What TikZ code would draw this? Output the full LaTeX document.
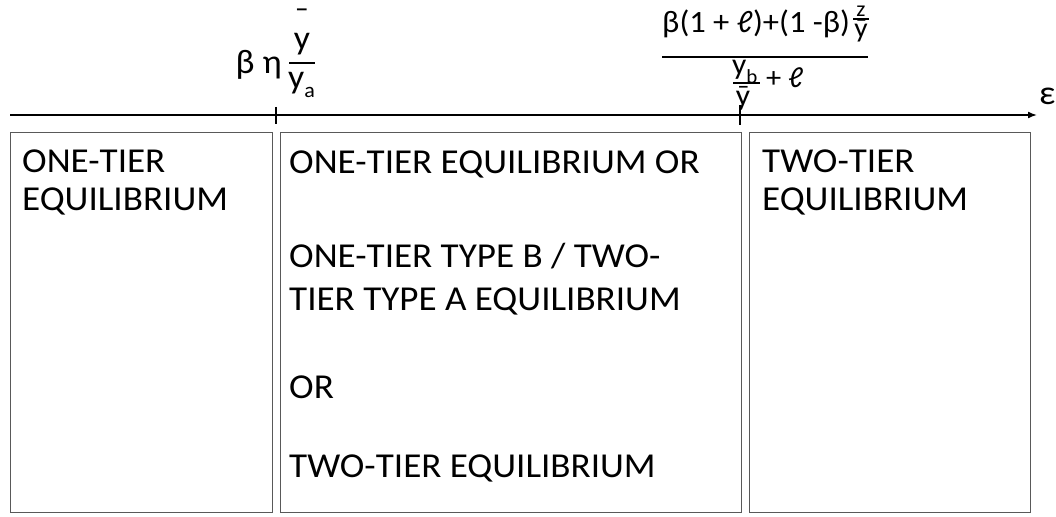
\documentclass[tikz,border=0pt]{standalone}
\usepackage{fontspec}
\setmainfont{Carlito}
\newfontfamily\dvfont{DejaVu Sans}
\usetikzlibrary{arrows.meta}
\newcommand{\scriptl}{\iffontchar\font"2113 ℓ\else{\dvfont ℓ}\fi}
\newcommand{\ybar}{\iffontchar\font"0233 ȳ\else\=y\fi}
\newcommand{\tallybar}{\ooalign{y\cr\hidewidth\raisebox{19pt}{¯}\hidewidth\cr}}
\begin{document}
\begin{tikzpicture}[x=1pt,y=-1pt,
 box/.style={draw=black!65, line width=1.3pt, anchor=north west, inner sep=0pt},
 body/.style={font=\fontsize{35}{40}\selectfont, xscale=1.06, anchor=base west, inner sep=0pt},
 lab/.style={font=\fontsize{34}{38}\selectfont, xscale=1.05, inner sep=0pt},
 small/.style={font=\fontsize{24}{28}\selectfont, xscale=1.05, inner sep=0pt},
 axis/.style={line width=1.6pt, -{Latex[length=9pt,width=7pt]}},
 tickln/.style={line width=1.6pt},
 barln/.style={line width=2pt},
 thinbar/.style={line width=1.3pt}]
\useasboundingbox (0,0) rectangle (1056,516);
% boxes
\node[box, minimum width=262pt, minimum height=380pt] (b1) at (10,132) {};
\node[box, minimum width=461pt, minimum height=380pt] (b2) at (280,132) {};
\node[box, minimum width=281pt, minimum height=380pt] (b3) at (749,132) {};
% texts in boxes
\node[body] (t11) at (22,172) {ONE-TIER};
\node[body] (t12) at (22,210) {EQUILIBRIUM};
\node[body] (t21) at (289,173) {ONE-TIER EQUILIBRIUM OR};
\node[body] (t22) at (289,267) {ONE-TIER TYPE B / TWO-};
\node[body] (t23) at (289,310) {TIER TYPE A EQUILIBRIUM};
\node[body] (t24) at (289,398) {OR};
\node[body] (t25) at (289,477) {TWO-TIER EQUILIBRIUM};
\node[body] (t31) at (762,172) {TWO-TIER};
\node[body] (t32) at (762,210) {EQUILIBRIUM};
% axis
\coordinate (a0) at (10,115);
\coordinate (a1) at (1037,115);
\draw[axis] (a0) -- (a1);
\node[lab, anchor=base west] (eps) at (1039,105) {ε};
\coordinate (k1) at (276,115);
\coordinate (k2) at (740,115);
\draw[tickln] ([yshift=8pt]k1) -- ([yshift=-9pt]k1);
\draw[tickln] ([yshift=10pt]k2) -- ([yshift=-10pt]k2);
% label 1
\node[lab, anchor=base east] (be) at (282,74) {β η};
\coordinate (f1a) at (289,63);
\coordinate (f1b) at (315,63);
\draw[barln] (f1a) -- (f1b);
\node[lab, anchor=base] (ytop) at (302,50) {\tallybar};
\node[lab, anchor=base west] (ya) at (288,89) {y\raisebox{-9pt}{\fontsize{21}{24}\selectfont a}};
% label 2
\node[lab, font=\fontsize{31}{36}\selectfont, anchor=base west] (num) at (662,33) {β(1 + \scriptl)+(1 -β)};
\node[small, font=\fontsize{22}{26}\selectfont, anchor=base] (zz) at (861,17) {z};
\coordinate (f2a) at (853,19);
\coordinate (f2b) at (869,19);
\draw[thinbar] (f2a) -- (f2b);
\node[small, font=\fontsize{28}{32}\selectfont, anchor=base] (yz) at (861,38) {\ybar};
\coordinate (f3a) at (662,57);
\coordinate (f3b) at (868,57);
\draw[barln] (f3a) -- (f3b);
\node[small, font=\fontsize{30}{34}\selectfont, anchor=base west] (yb) at (732,75) {y\raisebox{-9pt}{\fontsize{20}{22}\selectfont b}};
\coordinate (f4a) at (733,83);
\coordinate (f4b) at (760,83);
\draw[thinbar] (f4a) -- (f4b);
\node[small, font=\fontsize{30}{34}\selectfont, anchor=base] (ybd) at (743,106) {\ybar};
\node[lab, font=\fontsize{29}{34}\selectfont, anchor=base west] (pl) at (766,88) {+ \scriptl};
\end{tikzpicture}
\end{document}
